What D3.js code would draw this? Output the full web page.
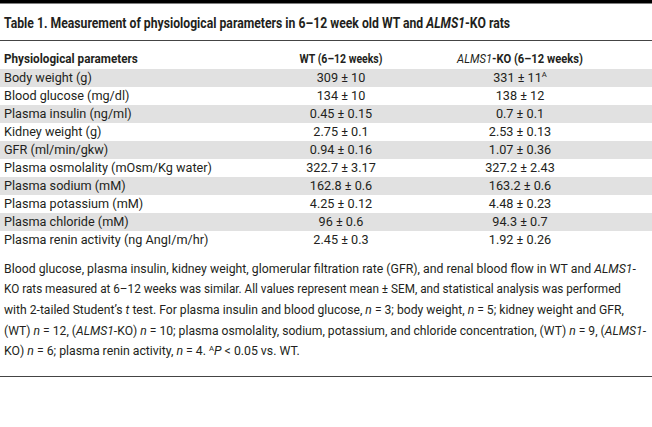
<!DOCTYPE html>
<html>
<head>
<meta charset="utf-8">
<script src="https://cdn.jsdelivr.net/npm/d3@7"></script>
<style>
  html, body { margin: 0; padding: 0; background: #fff; }
  svg { display: block; }
</style>
</head>
<body>
<div id="chart"></div>
<script>
// ---- Data ----
const titleText = "Table 1. Measurement of physiological parameters in 6–12 week old WT and ";
const columns = ["Physiological parameters", "WT (6–12 weeks)", "ALMS1-KO (6–12 weeks)"];
const parameters = [
  "Body weight (g)",
  "Blood glucose (mg/dl)",
  "Plasma insulin (ng/ml)",
  "Kidney weight (g)",
  "GFR (ml/min/gkw)",
  "Plasma osmolality (mOsm/Kg water)",
  "Plasma sodium (mM)",
  "Plasma potassium (mM)",
  "Plasma chloride (mM)",
  "Plasma renin activity (ng AngI/m/hr)"
];
const wtMean = ["309", "134", "0.45", "2.75", "0.94", "322.7", "162.8", "4.25", "96", "2.45"];
const wtSem  = ["10", "10", "0.15", "0.1", "0.16", "3.17", "0.6", "0.12", "0.6", "0.3"];
const koMean = ["331", "138", "0.7", "2.53", "1.07", "327.2", "163.2", "4.48", "94.3", "1.92"];
const koSem  = ["11", "12", "0.1", "0.13", "0.36", "2.43", "0.6", "0.23", "0.7", "0.26"];
const koSig  = ["A", "", "", "", "", "", "", "", "", ""];

// Footnote lines as runs: [text, style]  (i = italic, s = superscript)
const footnote = [
  [["Blood glucose, plasma insulin, kidney weight, glomerular filtration rate (GFR), and renal blood flow in WT and ", ""], ["ALMS1", "i"], ["-", ""]],
  [["KO rats measured at 6–12 weeks was similar. All values represent mean ± SEM, and statistical analysis was performed", ""]],
  [["with 2-tailed Student’s ", ""], ["t", "i"], [" test. For plasma insulin and blood glucose, ", ""], ["n", "i"], [" = 3; body weight, ", ""], ["n", "i"], [" = 5; kidney weight and GFR,", ""]],
  [["(WT) ", ""], ["n", "i"], [" = 12, (", ""], ["ALMS1", "i"], ["-KO) ", ""], ["n", "i"], [" = 10; plasma osmolality, sodium, potassium, and chloride concentration, (WT) ", ""], ["n", "i"], [" = 9, (", ""], ["ALMS1", "i"], ["-", ""]],
  [["KO) ", ""], ["n", "i"], [" = 6; plasma renin activity, ", ""], ["n", "i"], [" = 4. ", ""], ["A", "s"], ["P", "i"], [" < 0.05 vs. WT.", ""]]
];
// target widths of the footnote lines (as measured on the reference)
const footnoteWidths = [632, 618, 620, 642, 296];

// ---- Layout ----
const W = 652, H = 427;
const FONT = "Roboto, 'Open Sans', sans-serif";
const TXT = "#231f20";

const svg = d3.select("#chart").append("svg")
  .attr("width", W).attr("height", H)
  .style("font-family", FONT);

svg.append("rect").attr("width", W).attr("height", H).attr("fill", "#fff");

// place a text (drawn at 0,0) at (x0,y0), condensed horizontally to a width
function place(sel, x0, y0, opts) {
  const node = sel.node();
  const w = node.getComputedTextLength();
  let s = 1;
  if (opts && opts.width) s = opts.width / w;
  else if (opts && opts.factor) s = opts.factor;
  sel.attr("transform", `translate(${x0},${y0}) scale(${s},1)`);
}

// top thick rule
svg.append("rect").attr("x", 0).attr("y", 0).attr("width", W).attr("height", 3.5).attr("fill", "#000");

// title
const title = svg.append("text").attr("x", 0).attr("y", 0)
  .attr("font-size", 14.2).attr("font-weight", 700).attr("fill", TXT);
title.append("tspan").text(titleText);
title.append("tspan").attr("font-style", "italic").text("ALMS1");
title.append("tspan").text("-KO rats");
place(title, 4, 27.5, { width: 506 });

// rule under title
svg.append("line").attr("x1", 0).attr("x2", W).attr("y1", 40.5).attr("y2", 40.5)
  .attr("stroke", "#444").attr("stroke-width", 1.2);

// scales
const y = d3.scaleBand().domain(parameters).range([69, 69 + 18 * parameters.length]).padding(0);
const x = d3.scaleOrdinal().domain(columns).range([4, 341, 520]);

// shaded bands
svg.append("g").selectAll("rect")
  .data(parameters.filter((d, i) => i % 2 === 0))
  .join("rect")
  .attr("x", 0).attr("width", W)
  .attr("y", d => y(d)).attr("height", y.bandwidth())
  .attr("fill", "#e1e1e1");

// header
const header = svg.append("g").attr("font-size", 13).attr("font-weight", 700).attr("fill", TXT);
place(header.append("text").text(columns[0]), x(columns[0]), 62.5, { width: 134 });
place(header.append("text").attr("text-anchor", "middle").text(columns[1]), x(columns[1]), 62.5, { width: 83 });
const kh = header.append("text").attr("text-anchor", "middle");
kh.append("tspan").attr("font-style", "italic").attr("font-weight", 400).text("ALMS1");
kh.append("tspan").text("-KO (6–12 weeks)");
place(kh, x(columns[2]), 62.5, { width: 126 });

// rows
const rows = svg.append("g").attr("font-size", 13.2).attr("fill", TXT);
const baseOff = 13.3;
const COND = 0.96; // horizontal condensation to match the reference's narrower face

rows.selectAll("text.param").data(parameters).join("text")
  .attr("class", "param")
  .text(d => d)
  .each(function(d) { place(d3.select(this), x(columns[0]), y(d) + baseOff, { factor: COND }); });

rows.selectAll("text.wt").data(parameters).join("text")
  .attr("class", "wt")
  .attr("text-anchor", "middle")
  .text((d, i) => `${wtMean[i]} ± ${wtSem[i]}`)
  .each(function(d) { place(d3.select(this), x(columns[1]), y(d) + baseOff, { factor: COND }); });

rows.selectAll("text.ko").data(parameters).join("text")
  .attr("class", "ko")
  .attr("text-anchor", "middle")
  .each(function(d, i) {
    const t = d3.select(this);
    t.append("tspan").text(`${koMean[i]} ± ${koSem[i]}`);
    if (koSig[i]) {
      t.append("tspan").attr("font-size", 8).attr("dy", -5).text(koSig[i]);
    }
    place(t, x(columns[2]), y(d) + baseOff, { factor: COND });
  });

// footnote
const fn = svg.append("g").attr("font-size", 12.8).attr("fill", TXT);
footnote.forEach((line, li) => {
  const t = fn.append("text");
  line.forEach(([s, st]) => {
    const sp = t.append("tspan").text(s);
    if (st === "i") sp.attr("font-style", "italic");
    if (st === "s") sp.attr("font-size", 8).attr("baseline-shift", "super");
  });
  place(t, 4, 272.5 + li * 20.7, { width: footnoteWidths[li] });
});

// bottom rule
svg.append("line").attr("x1", 0).attr("x2", W).attr("y1", 376.5).attr("y2", 376.5)
  .attr("stroke", "#444").attr("stroke-width", 1.2);
</script>
</body>
</html>
